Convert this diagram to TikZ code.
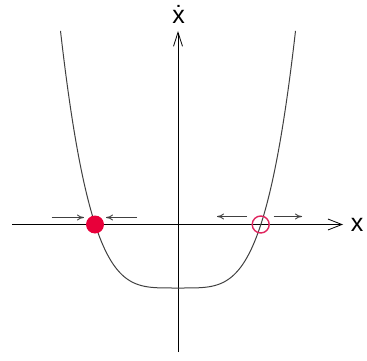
\documentclass[tikz,border=0pt]{standalone}
\usepackage{fontspec}
\setmainfont{Liberation Sans}
\usetikzlibrary{arrows.meta}
\definecolor{dotred}{HTML}{E8003A}
\definecolor{ringred}{HTML}{E0245E}
\definecolor{curvegray}{HTML}{404040}
\tikzset{
  axis/.style={line width=0.9pt, black, -{Straight Barb[length=14pt,width=11pt,line width=0.8pt]}},
  vaxis/.style={line width=0.9pt, black, -{Straight Barb[length=14pt,width=9pt,line width=0.8pt]}},
  flow/.style={line width=0.9pt, curvegray, -{To[length=7pt,width=6pt]}},
  lbl/.style={font=\fontsize{25}{25}\selectfont, inner sep=0pt},
  stable/.style={circle, fill=dotred, draw=none, minimum size=18pt, inner sep=0pt},
  unstable/.style={circle, draw=ringred, line width=1.4pt, fill=none, minimum size=17pt, inner sep=0pt}
}
\begin{document}
\begin{tikzpicture}[x=1pt,y=-1pt]
\useasboundingbox (0,0) rectangle (367,361);
% axes
\coordinate (xl) at (12,224.5);
\coordinate (xr) at (343,224.5);
\coordinate (yb) at (178,352);
\coordinate (yt) at (178,31);
\draw[axis] (xl) -- (xr);
\draw[vaxis] (yb) -- (yt);
\node[lbl] (xlab) at (357,225) {x};
\node[lbl] (ylab) at (178.5,14) {\.{x}};
% curve
\draw[line width=1.0pt, curvegray, line join=round]
  plot[domain=-117.5:117.5, samples=240, smooth] ({178+\x},{224+64*(1-(\x/83)^4)});
% fixed points
\node[stable] (s) at (95,224.5) {};
\node[unstable] (u) at (260.7,224.5) {};
% flow arrows
\coordinate (a1) at (51.7,217.5);
\coordinate (a2) at (84,217.5);
\coordinate (b1) at (137,217.5);
\coordinate (b2) at (106,217.5);
\coordinate (c1) at (247,216.5);
\coordinate (c2) at (217,216.5);
\coordinate (d1) at (273.5,216.5);
\coordinate (d2) at (302,216.5);
\draw[flow] (a1) -- (a2);
\draw[flow] (b1) -- (b2);
\draw[flow] (c1) -- (c2);
\draw[flow] (d1) -- (d2);
\end{tikzpicture}
\end{document}
